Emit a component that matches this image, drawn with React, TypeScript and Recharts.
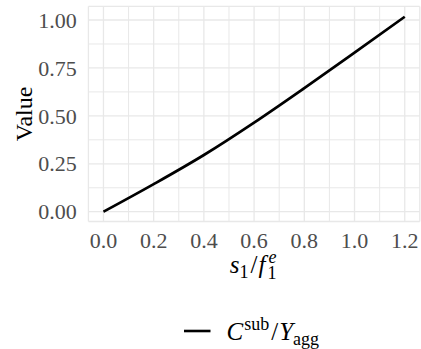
import React from 'react';
import { LineChart, Line, XAxis, YAxis, CartesianGrid, ReferenceLine, Legend } from 'recharts';

const ratioValues = [0, 0.2, 0.4, 0.6, 0.8, 1.0, 1.2];
const shareValues = [0, 0.144, 0.296, 0.465, 0.645, 0.83, 1.017];

const xTicks = [0, 0.2, 0.4, 0.6, 0.8, 1.0, 1.2];
const xMinorTicks = [0.1, 0.3, 0.5, 0.7, 0.9, 1.1];
const yTicks = [0, 0.25, 0.5, 0.75, 1.0];
const yMinorTicks = [0.125, 0.375, 0.625, 0.875];

const data = ratioValues.map((x, i) => ({ x, value: shareValues[i] }));

const FONT = '"Liberation Serif", "Times New Roman", serif';
const GRID = '#e8e8e8';

const XTick = (props: any) => {
  const { x, y, payload } = props;
  return (
    <text x={x} y={y + 15.6} textAnchor="middle" fontFamily={FONT} fontSize={22} fill="#4d4d4d">
      {payload.value.toFixed(1)}
    </text>
  );
};

const YTick = (props: any) => {
  const { x, y, payload } = props;
  return (
    <text x={x} y={y + 7.7} textAnchor="end" fontFamily={FONT} fontSize={22} fill="#4d4d4d">
      {payload.value.toFixed(2)}
    </text>
  );
};

const XTitle = (props: any) => {
  const { x, y, width } = props.viewBox;
  return (
    <text x={x + width / 2 - 1} y={y + 51.5} textAnchor="middle" fontFamily={FONT} fontSize={25} fill="#000">
      <tspan fontStyle="italic">s</tspan>
      <tspan fontSize={18} dy={5}>1</tspan>
      <tspan dx={2} dy={-5}>/</tspan>
      <tspan dx={1} fontStyle="italic">f</tspan>
      <tspan fontSize={18} fontStyle="italic" dx={3} dy={-10}>e</tspan>
      <tspan fontSize={18} dx={-9} dy={16}>1</tspan>
    </text>
  );
};

const YTitle = (props: any) => {
  const { x, y, height } = props.viewBox;
  const cx = x + 23.6;
  const cy = y + height / 2;
  return (
    <text x={cx} y={cy} textAnchor="middle" fontFamily={FONT} fontSize={24} fill="#000" transform={`rotate(-90, ${cx}, ${cy})`}>
      Value
    </text>
  );
};

const LegendBox = () => (
  <svg width={421} height={49} style={{ display: 'block' }}>
    <line x1={184} x2={210.5} y1={31} y2={31} stroke="#000" strokeWidth={2.6} />
    <text x={226.5} y={39.5} fontFamily={FONT} fontSize={25} fill="#000">
      <tspan fontStyle="italic">C</tspan>
      <tspan fontSize={18} dx={1} dy={-10}>sub</tspan>
      <tspan dx={2} dy={10}>/</tspan>
      <tspan dx={1} fontStyle="italic">Y</tspan>
      <tspan fontSize={18} dy={5}>agg</tspan>
    </text>
  </svg>
);

export default function App() {
  return (
    <div style={{ position: 'absolute', left: 0, top: 0, width: 421, height: 349, background: '#fff', fontFamily: FONT }}>
      <LineChart width={421} height={349} data={data} margin={{ top: 6.4, right: 1.2, bottom: 48.5, left: 8.4 }}>
        <CartesianGrid stroke={GRID} strokeWidth={1.3} />
        {xMinorTicks.map((v) => (
          <ReferenceLine key={`xm${v}`} x={v} stroke={GRID} strokeWidth={1} />
        ))}
        {yMinorTicks.map((v) => (
          <ReferenceLine key={`ym${v}`} y={v} stroke={GRID} strokeWidth={1} />
        ))}
        <XAxis
          dataKey="x"
          type="number"
          domain={[-0.06, 1.26]}
          ticks={xTicks}
          axisLine={false}
          tickLine={false}
          tickSize={0}
          tickMargin={11.2}
          height={30}
          interval={0}
          tick={XTick}
          label={{ content: XTitle }}
        />
        <YAxis
          type="number"
          domain={[-0.051, 1.071]}
          ticks={yTicks}
          axisLine={false}
          tickLine={false}
          tickSize={0}
          tickMargin={11.7}
          width={80}
          interval={0}
          tick={YTick}
          label={{ content: YTitle }}
        />
        <Legend
          content={LegendBox}
          verticalAlign="bottom"
          wrapperStyle={{ position: 'absolute', left: 0, top: 300, width: 421, height: 49 }}
        />
        <Line
          type="monotone"
          dataKey="value"
          stroke="#000"
          strokeWidth={2.7}
          dot={false}
          isAnimationActive={false}
        />
      </LineChart>
    </div>
  );
}
